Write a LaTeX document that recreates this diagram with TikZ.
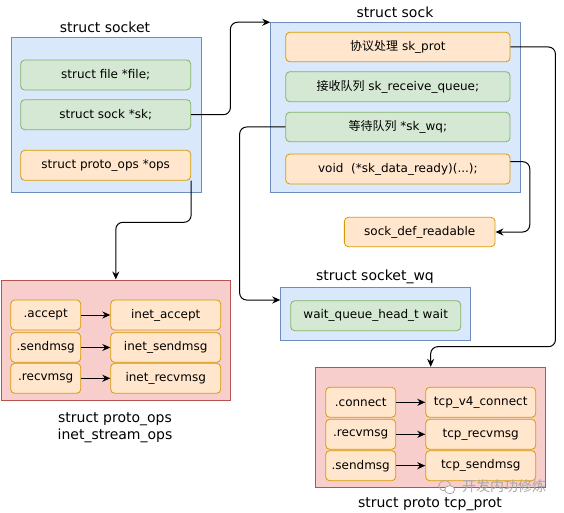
\documentclass[tikz,border=0pt]{standalone}
\usepackage{fontspec}
\setmainfont{DejaVu Sans}
\newfontfamily\cjk{Noto Sans CJK SC}
\usetikzlibrary{arrows.meta}
\definecolor{bfill}{HTML}{DAE8FC}\definecolor{bline}{HTML}{6C8EBF}
\definecolor{gfill}{HTML}{D5E8D4}\definecolor{gline}{HTML}{82B366}
\definecolor{ofill}{HTML}{FFE6CC}\definecolor{oline}{HTML}{D79B00}
\definecolor{rfill}{HTML}{F8CECC}\definecolor{rline}{HTML}{B85450}
\definecolor{wmark}{HTML}{A8A8A8}
\begin{document}
\begin{tikzpicture}[x=1pt,y=-1pt,
  bluebox/.style={draw=bline,fill=bfill,line width=0.9pt,inner sep=0pt},
  redbox/.style={draw=rline,fill=rfill,line width=0.9pt,inner sep=0pt},
  field/.style={rounded corners=4pt,line width=0.8pt,inner sep=0pt,font=\fontsize{12}{14}\selectfont},
  gfield/.style={field,draw=gline,fill=gfill},
  ofield/.style={field,draw=oline,fill=ofill},
  titletext/.style={font=\fontsize{14}{17}\selectfont,align=center},
  conn/.style={line width=1pt,rounded corners=7pt,-{Stealth[length=8pt,width=7pt]}},
  harrow/.style={line width=1pt,-{Stealth[length=8pt,width=7pt]}}]
\useasboundingbox (0,0) rectangle (564,513);

% struct socket
\node[titletext] (tsocket) at (105,27) {struct socket};
\node[bluebox,minimum width=190pt,minimum height=155pt] (socket) at (106,114.5) {};
\node[gfield,minimum width=170pt,minimum height=30pt] (file) at (105.7,75) {struct file *file;};
\node[gfield,minimum width=170pt,minimum height=30pt] (sk) at (105.7,114.7) {struct sock *sk;};
\node[ofield,minimum width=170pt,minimum height=30pt] (ops) at (105.7,165.3) {struct proto\_ops *ops};

% struct sock
\node[titletext] (tsock) at (395,12) {struct sock};
\node[bluebox,minimum width=250pt,minimum height=169.6pt] (sock) at (395.7,107.5) {};
\node[ofield,minimum width=224.3pt,minimum height=29.4pt] (prot) at (397.9,47) {{\cjk 协议处理} sk\_prot};
\node[gfield,minimum width=224.3pt,minimum height=30pt] (rq) at (397.9,86.7) {{\cjk 接收队列} sk\_receive\_queue;};
\node[gfield,minimum width=224.3pt,minimum height=29.4pt] (wq) at (397.9,127) {{\cjk 等待队列} *sk\_wq;};
\node[ofield,minimum width=224.3pt,minimum height=30pt] (dr) at (397.9,169) {void~~(*sk\_data\_ready)(...);};

% sock_def_readable
\node[ofield,minimum width=150.7pt,minimum height=29.4pt] (sdr) at (419.7,232) {sock\_def\_readable};

% struct socket_wq
\node[titletext] (tswq) at (375,276.7) {struct socket\_wq};
\node[bluebox,minimum width=190pt,minimum height=52.7pt] (swq) at (375.7,313.7) {};
\node[gfield,minimum width=170pt,minimum height=30pt] (wait) at (375.7,315.7) {wait\_queue\_head\_t wait};

% proto_ops
\node[redbox,minimum width=229.7pt,minimum height=120.7pt] (pops) at (115.8,340.3) {};
\node[ofield,minimum width=70pt,minimum height=30pt] (acc) at (45.7,315) {.accept};
\node[ofield,minimum width=70pt,minimum height=29.6pt] (snd) at (45.7,347.5) {.sendmsg};
\node[ofield,minimum width=70pt,minimum height=30pt] (rcv) at (45.7,378.3) {.recvmsg};
\node[ofield,minimum width=110pt,minimum height=30pt] (iacc) at (165.7,315) {inet\_accept};
\node[ofield,minimum width=110pt,minimum height=29.6pt] (isnd) at (165.7,347.5) {inet\_sendmsg};
\node[ofield,minimum width=110pt,minimum height=30pt] (ircv) at (165.7,378.3) {inet\_recvmsg};
\node[titletext] (tpops) at (115,427.5) {struct proto\_ops\\inet\_stream\_ops};

% tcp_prot
\node[redbox,minimum width=230pt,minimum height=120pt] (tcp) at (430.7,427.3) {};
\node[ofield,minimum width=70pt,minimum height=30pt] (con) at (360.7,402.3) {.connect};
\node[ofield,minimum width=70pt,minimum height=30pt] (trcv) at (360.7,434.3) {.recvmsg};
\node[ofield,minimum width=70pt,minimum height=30pt] (tsnd) at (360.7,465.7) {.sendmsg};
\node[ofield,minimum width=110pt,minimum height=30pt] (tcon) at (480.7,402.3) {tcp\_v4\_connect};
\node[ofield,minimum width=110pt,minimum height=30pt] (ttrcv) at (480.7,434.3) {tcp\_recvmsg};
\node[ofield,minimum width=110pt,minimum height=30pt] (ttsnd) at (480.7,465.7) {tcp\_sendmsg};
\node[titletext] (ttcp) at (430,504.3) {struct proto tcp\_prot};

% watermark
\coordinate (wmicon) at (446.7,486.7);
\draw[wmark,line width=0.8pt] (wmicon) ++(-2,-1) ellipse [x radius=6pt,y radius=5pt];
\draw[wmark,line width=0.8pt,fill=white] (wmicon) ++(3,3) ellipse [x radius=5pt,y radius=4pt];
\node[text=wmark,font=\cjk\fontsize{14}{16}\selectfont] (wmtext) at (504,486) {开发内功修炼};

% connectors
\draw[conn] (sk.east) -- ++(39.3,0) |- (sock.north west);
\draw[conn] (ops.south east) -- ++(0,41.6) -| (pops.north);
\draw[conn] (wq.west) -- ++(-45.7,0) |- ([yshift=13.7pt]swq.west);
\draw[conn] (prot.east) -- ++(45,0) -- ++(0,299.7) -| (tcp.north);
\draw[conn] ([yshift=7.3pt]dr.east) -- ++(19.3,0) |- (sdr.east);

\draw[harrow] (acc) -- (iacc);
\draw[harrow] (snd) -- (isnd);
\draw[harrow] (rcv) -- (ircv);
\draw[harrow] (con) -- (tcon);
\draw[harrow] (trcv) -- (ttrcv);
\draw[harrow] (tsnd) -- (ttsnd);
\end{tikzpicture}
\end{document}
